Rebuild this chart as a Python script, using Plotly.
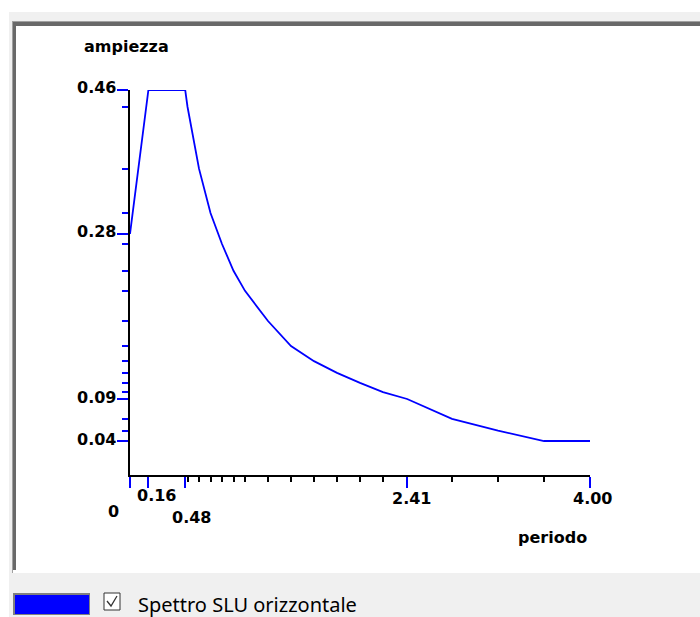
import plotly.graph_objects as go

# ---- data ----
periodo = [0.0, 0.16, 0.48, 0.5, 0.6, 0.7, 0.8, 0.9, 1.0, 1.2, 1.4, 1.6, 1.8,
           2.0, 2.2, 2.41, 2.8, 3.2, 3.6, 4.0]
ampiezza = [0.288, 0.46, 0.46, 0.440, 0.366, 0.313, 0.276, 0.244, 0.220, 0.184,
            0.154, 0.136, 0.122, 0.110, 0.099, 0.0908, 0.067, 0.053, 0.0406, 0.0406]

x_major_vals = [0.0, 0.16, 0.48, 2.41, 4.0]
x_major_text = ["0", "0.16", "0.48", "2.41", "4.00"]
x_minor_vals = [0.5, 0.6, 0.7, 0.8, 0.9, 1.0, 1.2, 1.4, 1.6, 1.8, 2.0, 2.2, 2.8, 3.2, 3.6]

y_major_vals = [0.46, 0.288, 0.0908, 0.0406]
y_major_text = ["0.46", "0.28", "0.09", "0.04"]
y_minor_vals = [0.440, 0.366, 0.313, 0.276, 0.244, 0.220, 0.184, 0.154, 0.136,
                0.122, 0.110, 0.099, 0.067, 0.053]

series_name = "Spettro SLU orizzontale"
x_title = "periodo"
y_title = "ampiezza"

W, H = 700, 617
def px(x):
    return x / W
def py(y):
    return 1 - y / H

BLUE = "#0000ff"
LBL_FONT = dict(family="DejaVu Sans", size=16, color="#000000")

fig = go.Figure()
fig.add_trace(go.Scatter(x=periodo, y=ampiezza, mode="lines",
                         line=dict(color=BLUE, width=1.8), name=series_name,
                         showlegend=False, hoverinfo="x+y"))

shapes = []
# window background
shapes.append(dict(type="rect", xref="paper", yref="paper", x0=px(9), x1=px(700),
                   y0=py(617), y1=py(12), fillcolor="#f0f0f0", line=dict(width=0), layer="below"))
# sunken border
shapes.append(dict(type="rect", xref="paper", yref="paper", x0=px(12), x1=px(701),
                   y0=py(573), y1=py(21), fillcolor="#a0a0a0", line=dict(width=0), layer="below"))
shapes.append(dict(type="rect", xref="paper", yref="paper", x0=px(13), x1=px(701),
                   y0=py(572), y1=py(22), fillcolor="#696969", line=dict(width=0), layer="below"))
shapes.append(dict(type="rect", xref="paper", yref="paper", x0=px(13), x1=px(701),
                   y0=py(573), y1=py(570), fillcolor="#ffffff", line=dict(width=0), layer="below"))
shapes.append(dict(type="rect", xref="paper", yref="paper", x0=px(16), x1=px(701),
                   y0=py(570), y1=py(26), fillcolor="#ffffff", line=dict(width=0), layer="below"))
# legend swatch
shapes.append(dict(type="rect", xref="paper", yref="paper", x0=px(13), x1=px(90),
                   y0=py(615), y1=py(593), fillcolor="#808080", line=dict(width=0)))
shapes.append(dict(type="rect", xref="paper", yref="paper", x0=px(15), x1=px(89),
                   y0=py(614), y1=py(595), fillcolor=BLUE, line=dict(width=0)))
# checkbox
shapes.append(dict(type="rect", xref="paper", yref="paper", x0=px(104), x1=px(120),
                   y0=py(610), y1=py(593), fillcolor="#ffffff", line=dict(color="#333333", width=1)))
shapes.append(dict(type="path", xref="paper", yref="paper",
                   path=f"M {px(107)},{py(601)} L {px(111)},{py(606)} L {px(117)},{py(596)}",
                   line=dict(color="#333333", width=1.3)))

annotations = []
for v, t in zip(y_major_vals, y_major_text):
    annotations.append(dict(x=0, y=v, xref="x", yref="y", text=f"<b>{t}</b>",
                            showarrow=False, xanchor="right", yanchor="middle",
                            xshift=-12, yshift=2, font=LBL_FONT))
x_lbl_shift = {"0": (-17, -36), "0.16": (8, -20), "0.48": (6, -42),
               "2.41": (4, -23), "4.00": (2, -23)}
for v, t in zip(x_major_vals, x_major_text):
    dx, dy = x_lbl_shift[t]
    annotations.append(dict(x=v, y=0, xref="x", yref="y", text=f"<b>{t}</b>",
                            showarrow=False, xanchor="center", yanchor="middle",
                            xshift=dx, yshift=dy, font=LBL_FONT))
annotations.append(dict(x=4.0, y=0, xref="x", yref="y", text=f"<b>{x_title}</b>",
                        showarrow=False, xanchor="center", yanchor="middle",
                        xshift=-38, yshift=-62, font=LBL_FONT))
annotations.append(dict(x=0, y=0.46, xref="x", yref="y", text=f"<b>{y_title}</b>",
                        showarrow=False, xanchor="left", yanchor="middle",
                        xshift=-48, yshift=43, font=LBL_FONT))
annotations.append(dict(x=px(136), y=py(604), xref="paper", yref="paper", text=series_name,
                        showarrow=False, xanchor="left", yanchor="middle",
                        font=dict(family="Noto Sans", size=20, color="#000000")))

fig.update_layout(
    width=W, height=H, margin=dict(l=0, r=0, t=0, b=0),
    paper_bgcolor="#ffffff", plot_bgcolor="rgba(0,0,0,0)",
    showlegend=False, shapes=shapes, annotations=annotations,
    xaxis=dict(domain=[px(130), px(590)], range=[0, 4], showgrid=False, zeroline=False,
               showline=True, linecolor="#000000", linewidth=2,
               tickmode="array", tickvals=x_major_vals, ticktext=x_major_text,
               showticklabels=False, ticks="outside", ticklen=11, tickwidth=2, tickcolor=BLUE,
               minor=dict(tickmode="array", tickvals=x_minor_vals, ticks="outside",
                          ticklen=5, tickwidth=2, tickcolor="#000000", showgrid=False),
               fixedrange=True),
    yaxis=dict(domain=[py(475), py(90)], range=[0, 0.46], showgrid=False, zeroline=False,
               showline=True, linecolor="#000000", linewidth=2,
               tickmode="array", tickvals=y_major_vals, ticktext=y_major_text,
               showticklabels=False, ticks="outside", ticklen=11, tickwidth=2, tickcolor=BLUE,
               minor=dict(tickmode="array", tickvals=y_minor_vals, ticks="outside",
                          ticklen=6, tickwidth=2, tickcolor=BLUE, showgrid=False),
               fixedrange=True),
)

fig.write_html("out.html", config={"displayModeBar": False},
               post_script="document.body.style.margin='0';document.body.style.overflow='hidden';")
